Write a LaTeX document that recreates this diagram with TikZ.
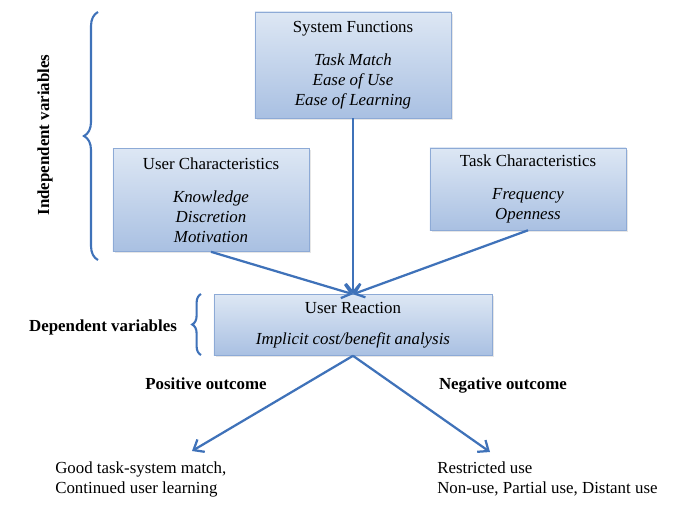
\documentclass[tikz,border=0pt]{standalone}
\usepackage{fontspec}
\setmainfont{Liberation Serif}
\usepackage{tikz}
\usetikzlibrary{arrows.meta,decorations.pathreplacing,shadows}
\definecolor{linkblue}{HTML}{3F72B9}
\definecolor{boxtop}{HTML}{DDE7F4}
\definecolor{boxbottom}{HTML}{A9C0E2}
\definecolor{boxline}{HTML}{8DAAD6}
\newcommand{\linkwidth}{1.6pt}
\newcommand{\textsize}{\fontsize{12}{14.2}\selectfont}
\tikzset{
  varbox/.style={draw=boxline, top color=boxtop, bottom color=boxbottom,
    align=center, inner sep=0pt, font=\textsize,
    drop shadow={opacity=0.2, shadow xshift=0.4mm, shadow yshift=-0.4mm}},
  link/.style={draw=linkblue, line width=\linkwidth,
    -{Straight Barb[length=2.2mm,width=3.6mm]}},
  varbrace/.style={draw=linkblue, line width=1.5pt, decorate,
    decoration={brace, amplitude=#1}},
  plain/.style={font=\textsize, inner sep=0pt, align=left},
  heading/.style={font=\bfseries\textsize, inner sep=0pt}
}

\begin{document}
\begin{tikzpicture}[x=0.025cm, y=-0.025cm]
\useasboundingbox (0,0) rectangle (682,527);
% boxes
\node[varbox, minimum width=4.9cm, minimum height=2.65cm] (sysfun) at (353,65)
  {System Functions\\[9pt]\textit{Task Match}\\\textit{Ease of Use}\\\textit{Ease of Learning}};
\node[varbox, minimum width=4.9cm, minimum height=2.575cm] (uchar) at (211,200)
  {User Characteristics\\[9pt]\textit{Knowledge}\\\textit{Discretion}\\\textit{Motivation}};
\node[varbox, minimum width=4.9cm, minimum height=2.05cm] (tchar) at (528,189)
  {Task Characteristics\\[9pt]\textit{Frequency}\\\textit{Openness}};
\node[varbox, minimum width=6.95cm, minimum height=1.525cm] (ureact) at (353,325)
  {User Reaction\\[8pt]\textit{Implicit cost/benefit analysis}};
% labels
\node[heading, rotate=90] (indep) at (45,135) {Independent variables};
\node[heading] (dep) at (103,327) {Dependent variables};
\node[heading] (pos) at (206,384) {Positive outcome};
\node[heading] (neg) at (503,385) {Negative outcome};
\node[plain, anchor=base west] (good) at (55,493)
  {Good task-system match,\\Continued user learning};
\node[plain, anchor=base west] (restr) at (437,493)
  {Restricted use\\Non-use, Partial use, Distant use};
% braces
\draw[varbrace=0.35cm] (98,260) -- (98,12);
\draw[varbrace=0.22cm] (201,355) -- (201,294);
% arrows
\coordinate (posend) at (192,451);
\coordinate (negend) at (490,452);
\draw[link] (sysfun.south) -- (ureact.north);
\draw[link] (uchar.south) -- (ureact.north);
\draw[link] (tchar.south) -- (ureact.north);
\draw[link] (ureact.south) -- (posend);
\draw[link] (ureact.south) -- (negend);
\end{tikzpicture}
\end{document}
